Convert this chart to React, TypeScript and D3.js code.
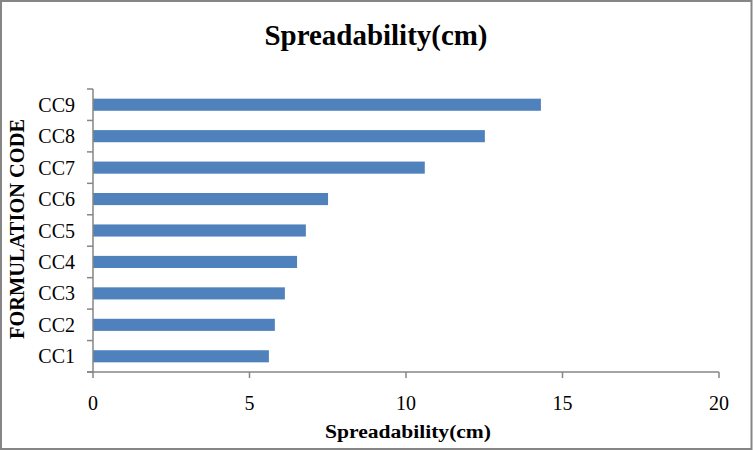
import React from "react";
import * as d3 from "d3";

const categories: string[] = ["CC1", "CC2", "CC3", "CC4", "CC5", "CC6", "CC7", "CC8", "CC9"];
const values: number[] = [5.62, 5.81, 6.13, 6.52, 6.8, 7.51, 10.6, 12.52, 14.31];
const xTicks: number[] = [0, 5, 10, 15, 20];
const title = "Spreadability(cm)";
const xTitle = "Spreadability(cm)";
const yTitle = "FORMULATION CODE";

const W = 753;
const H = 451;
const M = { left: 93, right: 34, top: 89, bottom: 79 };
const FONT = "'Liberation Serif', 'Times New Roman', serif";
const AXIS = "#868686";

export default function App() {
  const x = d3.scaleLinear().domain([0, 20]).range([M.left, W - M.right]);
  const y = d3
    .scaleBand<string>()
    .domain([...categories].reverse())
    .range([M.top, H - M.bottom])
    .paddingInner(0.615)
    .paddingOuter(0.3075);
  const band = (H - M.bottom - M.top) / categories.length;
  const bounds = d3.range(categories.length + 1).map((i) => M.top + i * band);
  const y0 = H - M.bottom;

  return (
    <svg
      width={W}
      height={H}
      style={{ position: "absolute", left: 0, top: 0, background: "#fff" }}
      fontFamily={FONT}
    >
      <rect x={1} y={1} width={W - 2.5} height={H - 3} fill="#fff" stroke={AXIS} strokeWidth={2} />
      <text x={376} y={45} textAnchor="middle" fontSize={29} fontWeight="bold" textLength={223} lengthAdjust="spacingAndGlyphs">
        {title}
      </text>
      {categories.map((c, i) => (
        <rect key={c} x={x(0)} y={y(c)} width={x(values[i]) - x(0)} height={y.bandwidth()} fill="#4F81BD" />
      ))}
      {/* y axis */}
      <line x1={M.left} x2={M.left} y1={M.top} y2={y0} stroke={AXIS} strokeWidth={1.5} />
      {bounds.map((b, i) => (
        <line key={i} x1={M.left - 6} x2={M.left} y1={b} y2={b} stroke={AXIS} strokeWidth={1.5} />
      ))}
      {categories.map((c) => (
        <text key={c} x={75} y={(y(c) as number) + y.bandwidth() / 2 + 7} textAnchor="end" fontSize={20}>
          {c}
        </text>
      ))}
      {/* x axis */}
      <line x1={M.left - 6} x2={W - M.right} y1={y0} y2={y0} stroke={AXIS} strokeWidth={1.5} />
      {xTicks.map((t) => (
        <g key={t}>
          <line x1={x(t)} x2={x(t)} y1={y0} y2={y0 + 6} stroke={AXIS} strokeWidth={1.5} />
          <text x={x(t)} y={410} textAnchor="middle" fontSize={20}>
            {t}
          </text>
        </g>
      ))}
      <text x={408} y={438} textAnchor="middle" fontSize={18} fontWeight="bold" textLength={166} lengthAdjust="spacingAndGlyphs">
        {xTitle}
      </text>
      <text
        transform={`translate(24, 229) rotate(-90)`}
        textAnchor="middle"
        fontSize={20}
        fontWeight="bold"
        textLength={220}
        lengthAdjust="spacingAndGlyphs"
      >
        {yTitle}
      </text>
    </svg>
  );
}
